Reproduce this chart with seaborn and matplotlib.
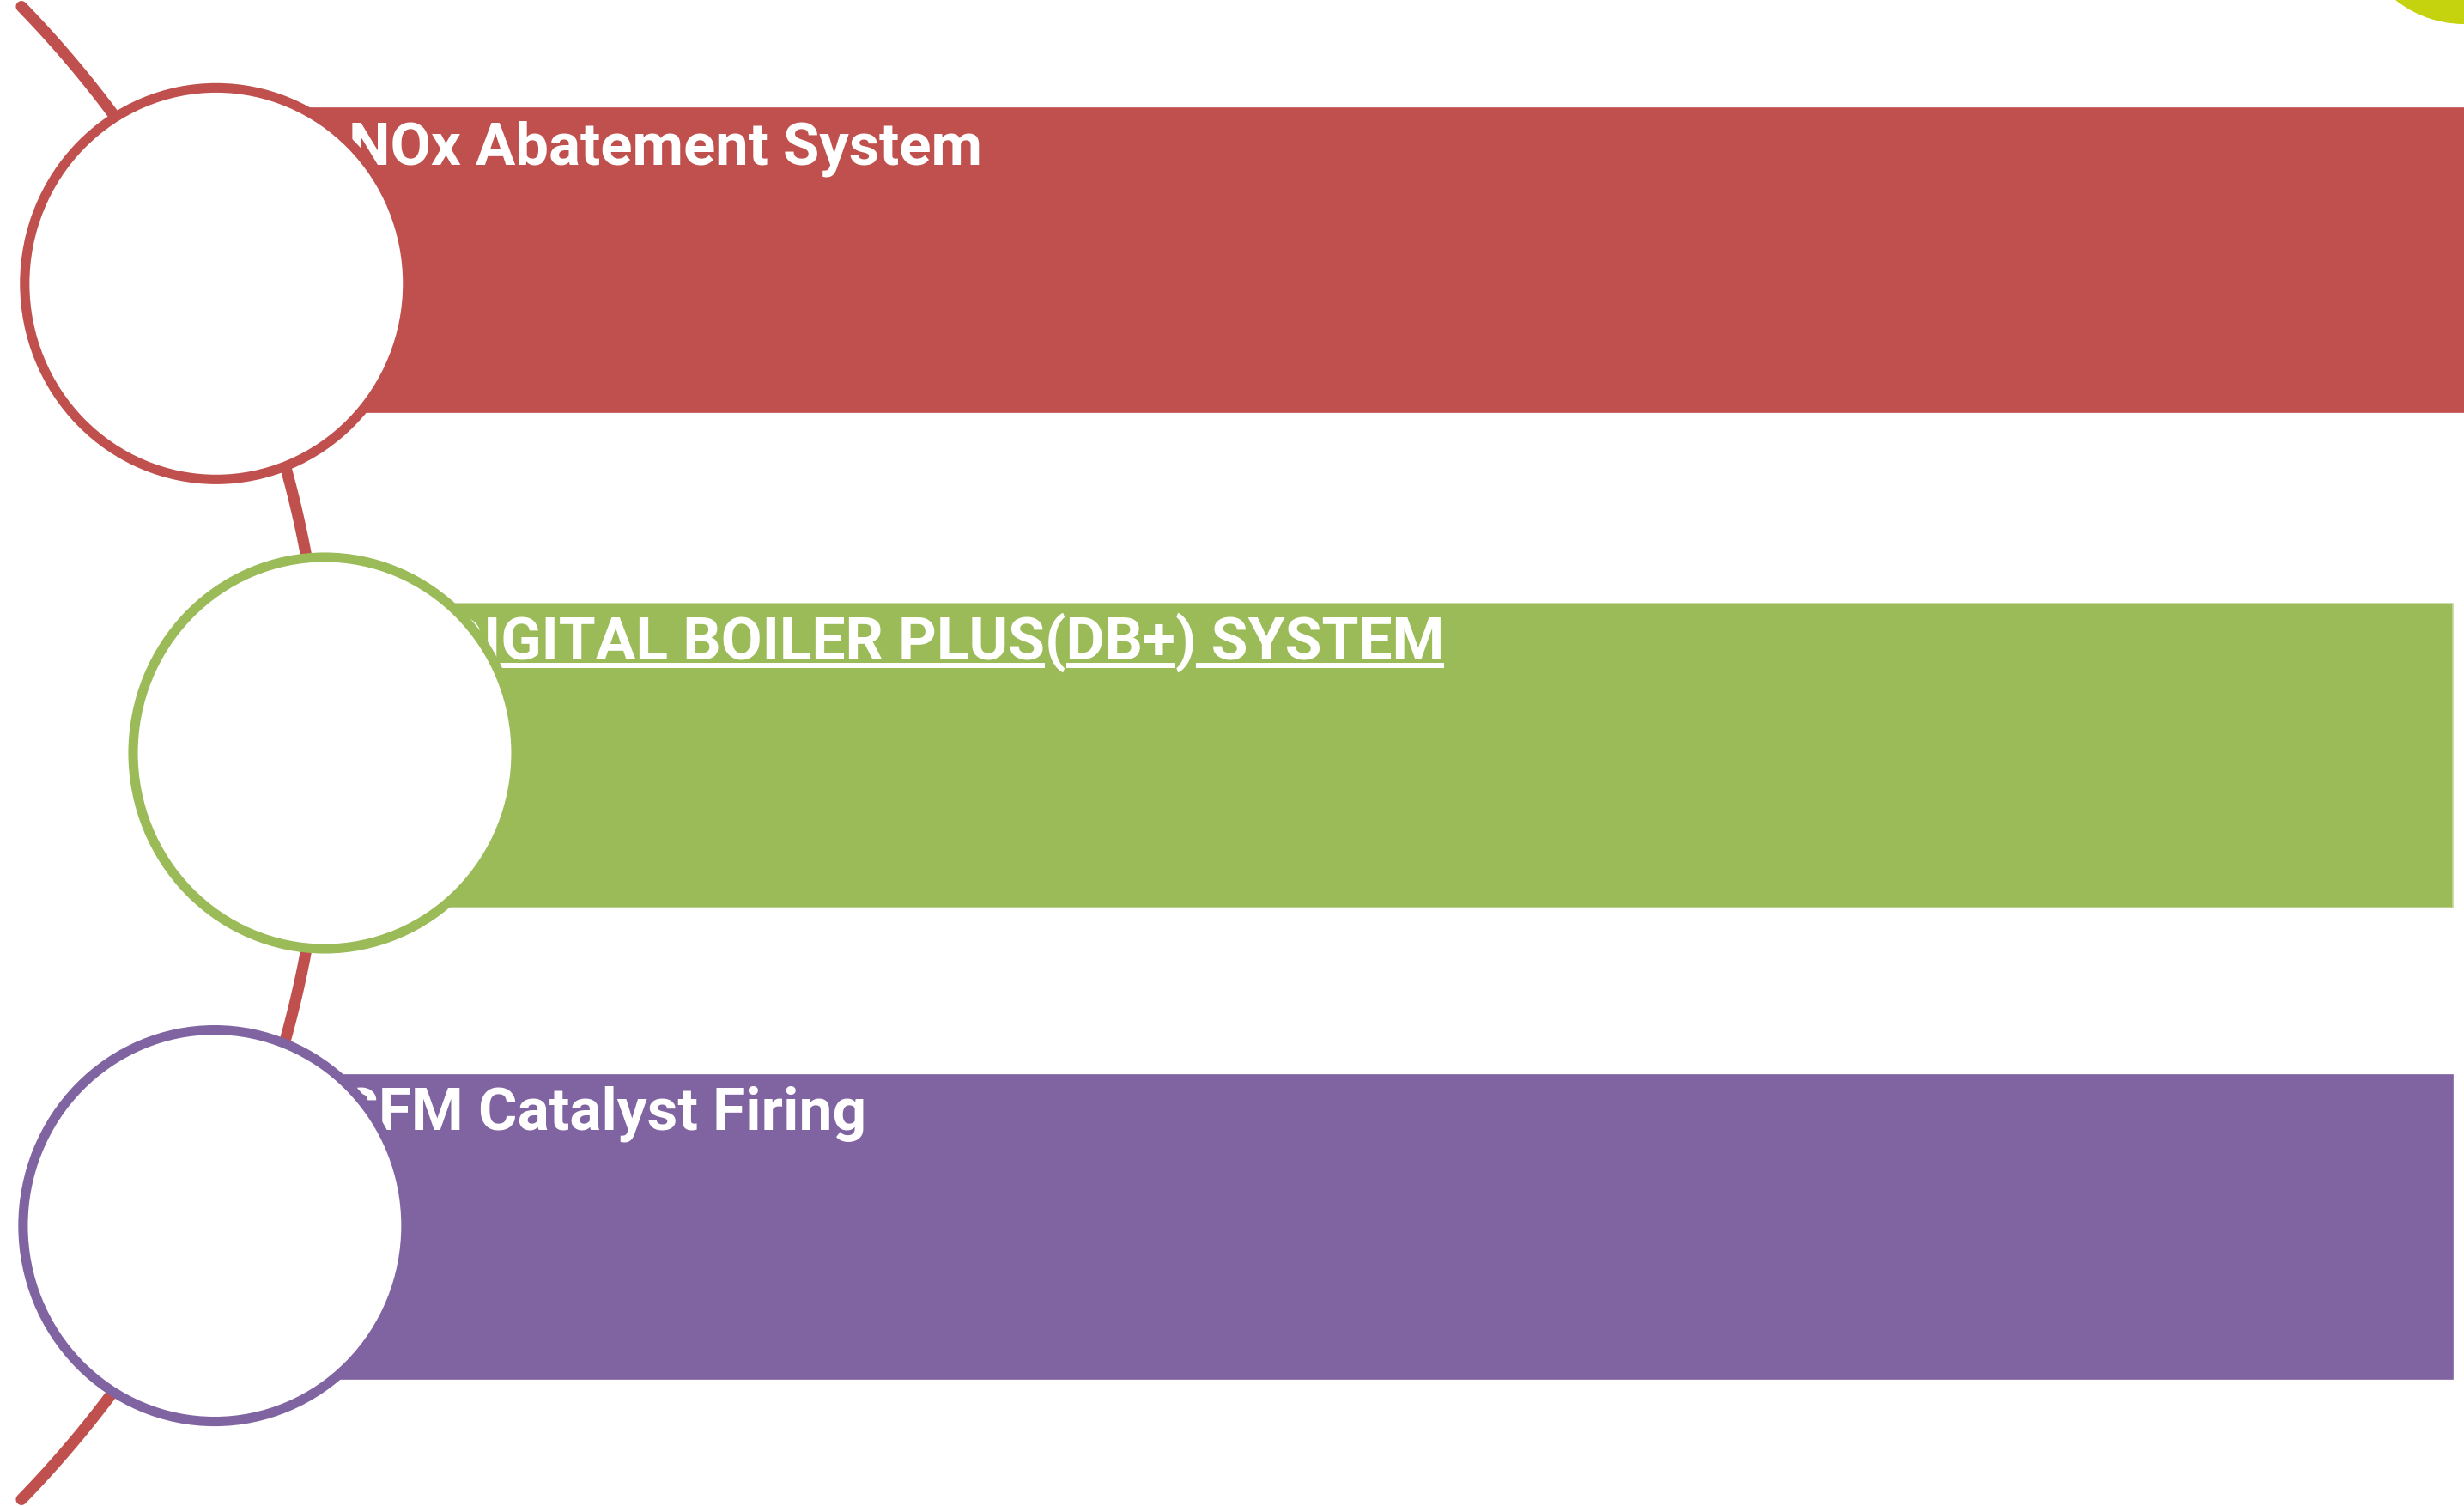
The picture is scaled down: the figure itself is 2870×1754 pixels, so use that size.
import numpy as np
import matplotlib
matplotlib.use("Agg")
import matplotlib.pyplot as plt
from matplotlib.patches import Ellipse, Circle
import seaborn as sns

# ---- data ----
labels = ["NOx Abatement System", "DIGITAL BOILER PLUS(DB+) SYSTEM", "SFM Catalyst Firing"]
colors = ["#C0504D", "#9BBB59", "#8064A2"]
edge_colors = ["#C0504D", "#C3D69B", "#8064A2"]
underlined = [False, True, False]
underline_parts = ["DIGITAL BOILER PLUS", "DB+", " SYSTEM"]

# ---- layout ----
W, H = 2870, 1754
arc_cx, arc_cy, arc_R = -869, 877, 1247
arc_span = 44.2
node_angles = [-26.0, 0.0, 26.2]
bar_tops = [126, 703, 1252]
bar_rights = [2870, 2857, 2857]
bar_h = 354
text_x = [406, 518, 398]
text_base = [191, 768, 1316]
text_size = [49.5, 50, 50]

sns.set_theme(style="white")
plt.rcParams['font.family'] = ['Roboto', 'DejaVu Sans']

fig = plt.figure(figsize=(W / 100, H / 100), dpi=100)
ax = fig.add_axes([0, 0, 1, 1])
ax.set_xlim(0, W)
ax.set_ylim(H, 0)
ax.axis('off')

# connecting arc
t = np.deg2rad(np.linspace(-arc_span, arc_span, 500))
ax.plot(arc_cx + arc_R * np.cos(t), arc_cy + arc_R * np.sin(t),
        color=colors[0], lw=9.5, solid_capstyle='round', zorder=1)

texts = []
for i, lab in enumerate(labels):
    a = np.deg2rad(node_angles[i])
    cx = arc_cx + arc_R * np.cos(a)
    cy = arc_cy + arc_R * np.sin(a)
    ax.barh(bar_tops[i] + bar_h / 2, bar_rights[i] - cx, left=cx, height=bar_h,
            color=colors[i], edgecolor=edge_colors[i], linewidth=1.2, zorder=2)
    ax.add_patch(Ellipse((cx, cy), width=446, height=456, facecolor='white',
                         edgecolor=colors[i], lw=8, zorder=4))
    tx = ax.text(text_x[i], text_base[i], lab, color='white', fontsize=text_size[i],
                 fontweight='bold', ha='left', va='baseline', zorder=3)
    texts.append(tx)

# underlines
fig.canvas.draw()
renderer = fig.canvas.get_renderer()
inv = ax.transData.inverted()


def right_edge(i, s):
    tmp = ax.text(text_x[i], text_base[i], s, fontsize=text_size[i], fontweight='bold',
                  ha='left', va='baseline', alpha=0)
    bb = tmp.get_window_extent(renderer)
    tmp.remove()
    return inv.transform((bb.x1, bb.y0))[0]


for i, lab in enumerate(labels):
    if not underlined[i]:
        continue
    pos = 0
    for part in underline_parts:
        start_idx = lab.index(part, pos)
        end_idx = start_idx + len(part)
        x0 = text_x[i] if start_idx == 0 else right_edge(i, lab[:start_idx])
        x1 = right_edge(i, lab[:end_idx])
        ax.plot([x0, x1], [text_base[i] + 7, text_base[i] + 7], color='white',
                lw=4.3, solid_capstyle='butt', zorder=3)
        pos = end_idx

# decorative blob top-right
ax.add_patch(Circle((2870, -100), 128, facecolor='#C5D20E', edgecolor='none', zorder=5))

fig.savefig('out.png', dpi=100)
